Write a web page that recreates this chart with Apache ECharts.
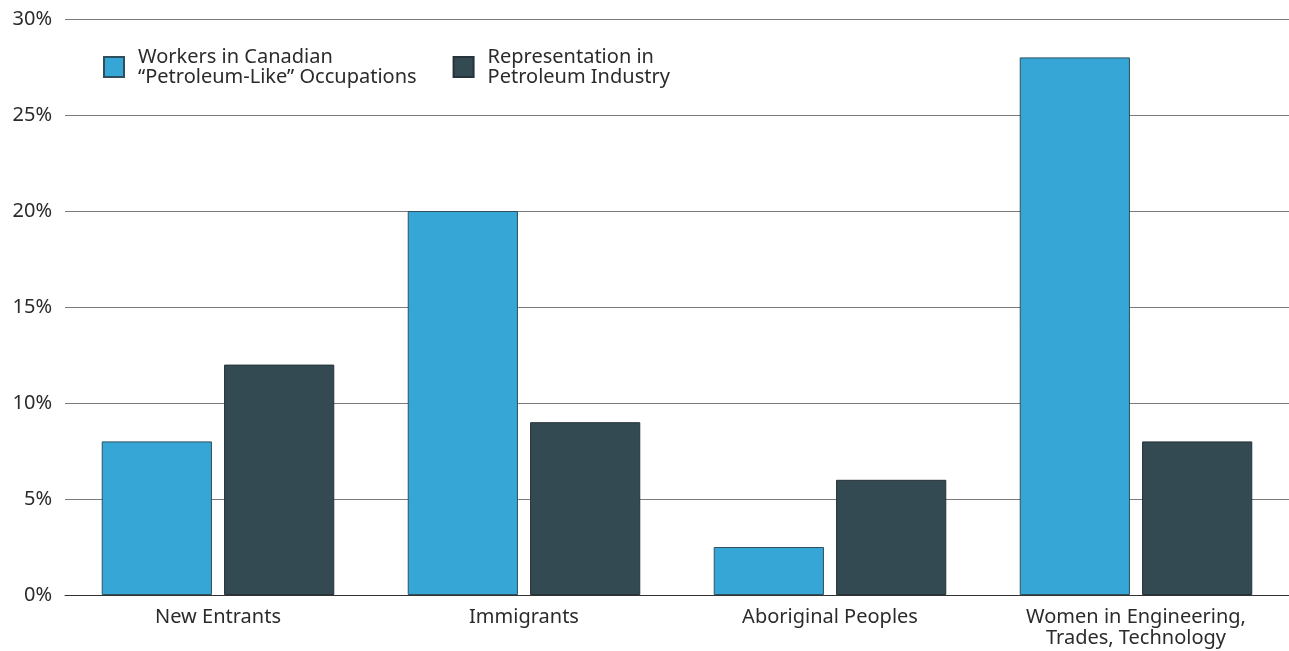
<!DOCTYPE html>
<html>
<head>
<meta charset="utf-8">
<script src="https://cdn.jsdelivr.net/npm/echarts@6/dist/echarts.min.js"></script>
<style>
  html, body { margin: 0; padding: 0; background: #fff; }
  #chart { width: 1289px; height: 651px; }
</style>
</head>
<body>
<div id="chart"></div>
<script>
// Share of each group: broader occupations vs. the petroleum industry itself (%)
const categories = ['New Entrants', 'Immigrants', 'Aboriginal Peoples', 'Women in Engineering,\nTrades, Technology'];
const seriesNames = ['Workers in Canadian\n\u201cPetroleum-Like\u201d Occupations', 'Representation in\nPetroleum Industry'];
const occupationsShare = [8, 20, 2.5, 28];
const industryShare = [12, 9, 6, 8];
const yTicks = [0, 5, 10, 15, 20, 25, 30];

const FONT = '"Noto Sans", "DejaVu Sans", sans-serif';
const TEXT = '#2b2b2b';

const chart = echarts.init(document.getElementById('chart'), null, { renderer: 'canvas' });

chart.setOption({
  animation: false,
  textStyle: { fontFamily: FONT, color: TEXT },
  grid: { left: 65, right: 0, top: 19, bottom: 56, containLabel: false },
  legend: {
    left: 103,
    top: 47,
    padding: 0,
    itemWidth: 20,
    itemHeight: 20,
    itemGap: 36,
    icon: 'rect',
    textStyle: { fontFamily: FONT, fontSize: 20, color: TEXT, lineHeight: 20, padding: [0, 0, 0, 9] },
    data: seriesNames
  },
  xAxis: {
    type: 'category',
    data: categories,
    axisTick: { show: false },
    axisLine: { show: true, lineStyle: { color: '#333', width: 1 } },
    axisLabel: { fontFamily: FONT, fontSize: 20, color: TEXT, margin: 12, lineHeight: 21, interval: 0 }
  },
  yAxis: {
    type: 'value',
    min: yTicks[0],
    max: yTicks[yTicks.length - 1],
    interval: 5,
    axisLine: { show: false },
    axisTick: { show: false },
    axisLabel: { fontFamily: FONT, fontSize: 20, color: TEXT, margin: 13, formatter: v => v + '%' },
    splitLine: { lineStyle: { color: '#7a7a7a', width: 1 } }
  },
  series: [
    {
      name: seriesNames[0],
      type: 'bar',
      data: occupationsShare,
      barGap: '11%',
      barCategoryGap: '24%',
      itemStyle: { color: '#36a6d6', borderColor: '#2f4f5c', borderWidth: 1 }
    },
    {
      name: seriesNames[1],
      type: 'bar',
      data: industryShare,
      itemStyle: { color: '#344a53', borderColor: '#263338', borderWidth: 1 }
    }
  ]
});
</script>
</body>
</html>
